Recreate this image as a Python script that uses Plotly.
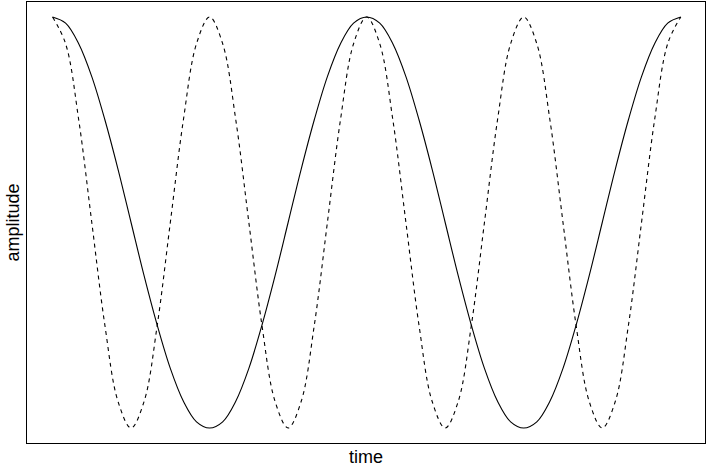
import plotly.graph_objects as go

# --- DATA ---
time = [0, 1, 2, 3, 4, 5, 6, 7, 8, 9, 10, 11, 12, 13, 14, 15, 16,
        17, 18, 19, 20, 21, 22, 23, 24, 25, 26, 27, 28, 29, 30, 31, 32,
        33, 34, 35, 36, 37, 38, 39, 40, 41, 42, 43, 44, 45, 46, 47, 48]

slow_wave = [1.0, 0.97, 0.87, 0.71, 0.5, 0.26, 0.0, -0.26, -0.5, -0.71, -0.87, -0.97,
             -1.0, -0.97, -0.87, -0.71, -0.5, -0.26, 0.0, 0.26, 0.5, 0.71, 0.87, 0.97,
             1.0, 0.97, 0.87, 0.71, 0.5, 0.26, 0.0, -0.26, -0.5, -0.71, -0.87, -0.97,
             -1.0, -0.97, -0.87, -0.71, -0.5, -0.26, 0.0, 0.26, 0.5, 0.71, 0.87, 0.97,
             1.0]

fast_wave = [1.0, 0.87, 0.5, 0.0, -0.5, -0.87, -1.0, -0.87, -0.5, 0.0, 0.5, 0.87,
             1.0, 0.87, 0.5, 0.0, -0.5, -0.87, -1.0, -0.87, -0.5, 0.0, 0.5, 0.87,
             1.0, 0.87, 0.5, 0.0, -0.5, -0.87, -1.0, -0.87, -0.5, 0.0, 0.5, 0.87,
             1.0, 0.87, 0.5, 0.0, -0.5, -0.87, -1.0, -0.87, -0.5, 0.0, 0.5, 0.87,
             1.0]

fig = go.Figure()
fig.add_trace(go.Scatter(x=time, y=slow_wave, mode='lines',
                         line=dict(color='black', width=1.1, shape='spline', smoothing=1.0)))
fig.add_trace(go.Scatter(x=time, y=fast_wave, mode='lines',
                         line=dict(color='black', width=1.1, shape='spline', smoothing=1.0, dash='4px,4px')))

axis_style = dict(showgrid=False, zeroline=False, showticklabels=False, ticks='',
                  showline=True, mirror=True, linecolor='black', linewidth=1.3,
                  automargin=False)

fig.update_layout(
    width=707, height=467,
    margin=dict(l=27, r=2, t=2, b=24),
    plot_bgcolor='white', paper_bgcolor='white',
    showlegend=False,
    font=dict(family='Liberation Sans, Arial, sans-serif', size=15, color='black'),
)
fig.update_xaxes(range=[-1.95, 49.85], title=dict(text='time', standoff=8), **axis_style)
fig.update_yaxes(range=[-1.073, 1.073], title=dict(text='amplitude', standoff=1), **axis_style)

# page has a default body margin; drop it so the figure sits at the window corner
fix_page = ("document.body.style.margin='0';"
            "document.body.style.overflow='hidden';"
            "Plotly.relayout(document.getElementById('{plot_id}'), {width: 707, height: 467});")
fig.write_html("out.html", post_script=fix_page, config={'displayModeBar': False})
